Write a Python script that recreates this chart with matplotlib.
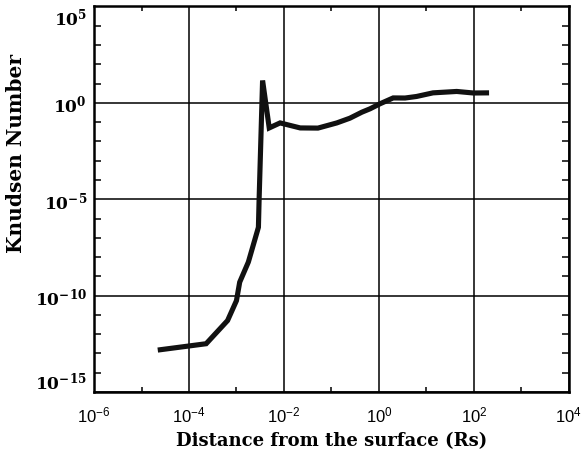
import numpy as np
import matplotlib
matplotlib.use("Agg")
import matplotlib.pyplot as plt
from matplotlib.ticker import FixedLocator, FuncFormatter, NullFormatter

# Knudsen number profile vs. distance from the solar surface
distance_rs = [2.2e-5, 2.3e-4, 6.5e-4, 1.0e-3, 1.17e-3, 1.78e-3, 2.9e-3, 3.0e-3,
               3.55e-3, 4.9e-3, 8.3e-3, 2.2e-2, 5.2e-2, 1.3e-1, 2.45e-1, 4.4e-1,
               6.5e-1, 1.05, 2.0, 3.55, 6.2, 13.8, 43.6, 98.0, 209.0]
knudsen = [1.5e-13, 3.2e-13, 5.1e-12, 5.5e-11, 5.0e-10, 5.5e-9, 3.5e-7, 1.0e-5,
           14.5, 5.0e-2, 9.1e-2, 5.0e-2, 4.9e-2, 9.1e-2, 1.6e-1, 3.3e-1,
           4.9e-1, 8.9e-1, 1.8, 1.78, 2.14, 3.3, 3.9, 3.24, 3.3]

x_ticks = [1e-6, 1e-4, 1e-2, 1e0, 1e2, 1e4]
y_ticks = [1e-15, 1e-10, 1e-5, 1e0, 1e5]

fig = plt.figure(figsize=(5.84, 4.52), dpi=100)
ax = fig.add_axes([0.161, 0.1305, 0.813, 0.853])

ax.plot(distance_rs, knudsen, color="#111111", lw=3.7, solid_joinstyle="miter",
        solid_capstyle="butt", zorder=3)

ax.set_xscale("log")
ax.set_yscale("log")
ax.set_xlim(1e-6, 1e4)
ax.set_ylim(1e-15, 1e5)

ax.xaxis.set_major_locator(FixedLocator(x_ticks))
ax.yaxis.set_major_locator(FixedLocator(y_ticks))
ax.xaxis.set_minor_locator(FixedLocator([1e-5, 1e-3, 1e-1, 1e1, 1e3]))
ax.yaxis.set_minor_locator(FixedLocator(
    [10.0 ** k for k in range(-15, 6) if k % 5 != 0]))
ax.xaxis.set_minor_formatter(NullFormatter())
ax.yaxis.set_minor_formatter(NullFormatter())

fmt = FuncFormatter(lambda v, p: r"$\mathregular{10^{%d}}$" % int(round(np.log10(v))))
ax.xaxis.set_major_formatter(fmt)
ax.yaxis.set_major_formatter(fmt)

ax.grid(True, which="major", color="black", lw=1.1)
for s in ax.spines.values():
    s.set_linewidth(1.8)

ax.tick_params(which="both", direction="in", top=True, right=True, width=1.1)
ax.tick_params(which="major", length=0)
ax.tick_params(axis="y", which="minor", length=5)
ax.tick_params(axis="x", which="minor", length=3.8)
ax.tick_params(axis="x", which="major", pad=9)
ax.tick_params(axis="y", which="major", pad=5)

for lab in ax.get_xticklabels():
    lab.set_fontfamily("Liberation Sans")
    lab.set_fontsize(12)
for lab in ax.get_yticklabels():
    lab.set_fontfamily("DejaVu Serif")
    lab.set_fontsize(12.3)
    lab.set_fontweight("bold")

# keep the end labels of the y axis inside the frame height
yt = ax.yaxis.get_major_ticks()
yt[0].label1.set_verticalalignment("bottom")
yt[-1].label1.set_verticalalignment("top")

ax.set_xlabel("Distance from the surface (Rs)", fontfamily="DejaVu Serif",
              fontweight="bold", fontsize=13, labelpad=5)
ax.set_ylabel("Knudsen Number", fontfamily="DejaVu Serif",
              fontweight="bold", fontsize=14.5)
ax.yaxis.set_label_coords(-0.143, 0.62)

fig.savefig("out.png", dpi=100)
